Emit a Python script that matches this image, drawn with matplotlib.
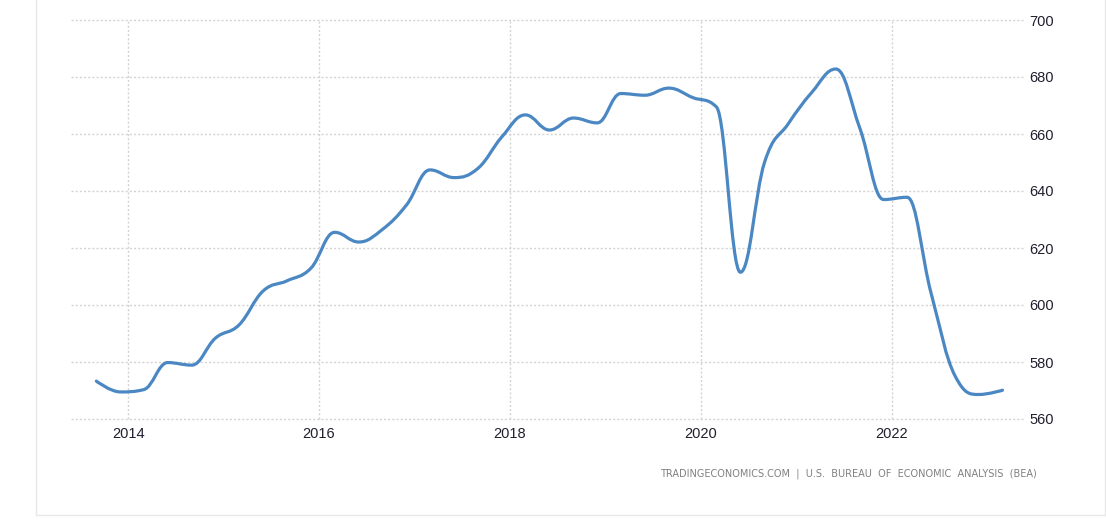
import matplotlib
matplotlib.use("Agg")
import matplotlib.pyplot as plt
import matplotlib.dates as mdates
from matplotlib.path import Path
from matplotlib.patches import PathPatch
from matplotlib.lines import Line2D
import pandas as pd

plt.rcParams['font.family'] = ['Liberation Sans', 'DejaVu Sans']

# quarterly readings, dated on the first day of the quarter's last month
quarters = pd.date_range("2013-09-01", periods=39, freq="3MS")
values = [573.3, 569.5, 570.3, 579.8, 578.9, 588.4, 593.0, 604.9, 608.5, 612.9,
          625.5, 622.1, 626.6, 635.1, 647.4, 644.7, 648.0, 659.0, 666.7, 661.4,
          665.6, 663.9, 674.2, 673.6, 676.1, 672.8, 669.5, 611.5, 650.0, 663.6,
          674.6, 682.8, 662.0, 637.0, 637.8, 604.0, 575.0, 568.6, 570.1]
year_ticks = [2014, 2016, 2018, 2020, 2022]
y_ticks = [560, 580, 600, 620, 640, 660, 680, 700]
source = "TRADINGECONOMICS.COM  |  U.S.  BUREAU  OF  ECONOMIC  ANALYSIS  (BEA)"


def spline_path(xs, ys, smoothing=1.5):
    # smooth curve through the points, same control point rule as a highcharts spline
    n = len(xs)
    left = [None] * n
    right = [None] * n
    for i in range(n):
        x, y = xs[i], ys[i]
        if 0 < i < n - 1:
            px, py = xs[i - 1], ys[i - 1]
            nx, ny = xs[i + 1], ys[i + 1]
            d = smoothing + 1
            lcx, lcy = (smoothing * x + px) / d, (smoothing * y + py) / d
            rcx, rcy = (smoothing * x + nx) / d, (smoothing * y + ny) / d
            corr = (rcy - lcy) * (rcx - x) / (rcx - lcx) + y - rcy
            lcy += corr
            rcy += corr
            if lcy > py and lcy > y:
                lcy = max(py, y)
                rcy = 2 * y - lcy
            elif lcy < py and lcy < y:
                lcy = min(py, y)
                rcy = 2 * y - lcy
            if rcy > ny and rcy > y:
                rcy = max(ny, y)
                lcy = 2 * y - rcy
            elif rcy < ny and rcy < y:
                rcy = min(ny, y)
                lcy = 2 * y - rcy
            left[i] = (lcx, lcy)
            right[i] = (rcx, rcy)
        else:
            left[i] = right[i] = (x, y)
    verts = [(xs[0], ys[0])]
    codes = [Path.MOVETO]
    for i in range(1, n):
        verts += [right[i - 1], left[i], (xs[i], ys[i])]
        codes += [Path.CURVE4] * 3
    return Path(verts, codes)


fig = plt.figure(figsize=(11.06, 5.31), dpi=100)
ax = fig.add_axes([71 / 1106, 1 - 419 / 531, (1025 - 71) / 1106, (419 - 20) / 531])

xs = list(mdates.date2num(quarters))
ax.add_patch(PathPatch(spline_path(xs, values), fill=False, edgecolor="#4b88c3",
                       linewidth=2.3, capstyle="round", joinstyle="round", zorder=3))

ax.set_xlim(mdates.date2num(pd.Timestamp("2013-05-27")), mdates.date2num(pd.Timestamp("2023-05-26")))
ax.set_ylim(560, 700)
ax.set_xticks([mdates.date2num(pd.Timestamp(f"{y}-01-01")) for y in year_ticks])
ax.set_xticklabels([str(y) for y in year_ticks])
ax.set_yticks(y_ticks)
ax.yaxis.tick_right()
ax.tick_params(axis="both", length=0, labelsize=10.5, labelcolor="#1f1f2e")
ax.tick_params(axis="y", pad=3)
ax.tick_params(axis="x", pad=6)
ax.grid(True, color="#d3d3d3", linestyle=(0, (1.5, 1.5)), linewidth=1)
for gl in ax.get_xgridlines() + ax.get_ygridlines():
    gl.set_clip_on(False)
for s in ax.spines.values():
    s.set_visible(False)

fig.text(1037 / 1106, 1 - 474 / 531, source, ha="right", va="center",
         fontsize=7, color="#808080", family=["DejaVu Sans"])

# light frame around the chart box
fig.add_artist(Line2D([36 / 1106, 36 / 1106], [1, 1 - 515 / 531], color="#e8e8e8", lw=1))
fig.add_artist(Line2D([36 / 1106, 1105 / 1106], [1 - 515 / 531, 1 - 515 / 531], color="#e8e8e8", lw=1))
fig.add_artist(Line2D([1105 / 1106, 1105 / 1106], [1, 1 - 515 / 531], color="#e8e8e8", lw=1))

fig.savefig("out.png", dpi=100)
